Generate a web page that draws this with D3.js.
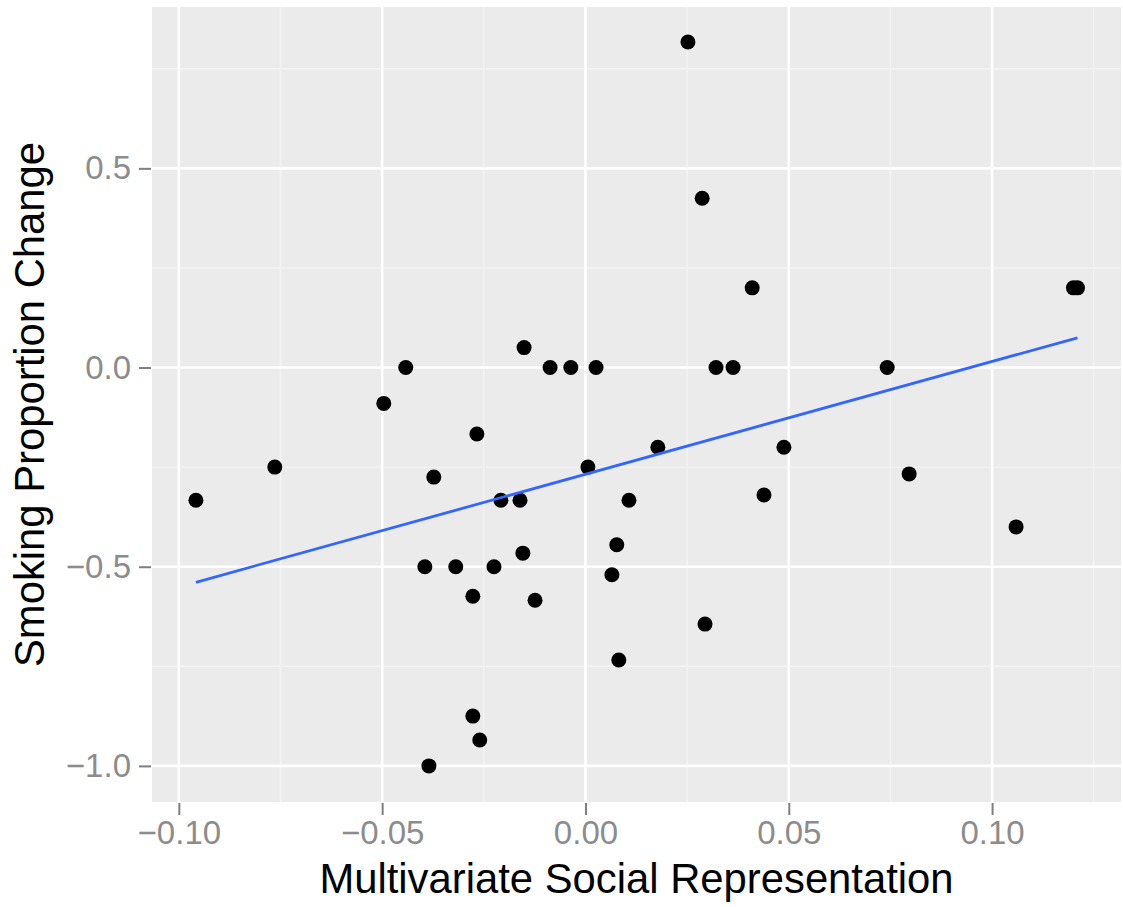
<!DOCTYPE html>
<html>
<head>
<meta charset="utf-8">
<script src="https://cdn.jsdelivr.net/npm/d3@7"></script>
<style>
  html, body { margin: 0; padding: 0; background: #fff; }
  svg { display: block; }
</style>
</head>
<body>
<svg id="chart" width="1123" height="907"></svg>
<script>
// ---- data ----
const xValues = [
  -0.0958, -0.0764, -0.0496, -0.0442, -0.0267, -0.0373, -0.0395, -0.0319, -0.0277, -0.0225,
  -0.0208, -0.0161, -0.0154, -0.0151, -0.0124, -0.0087, -0.0036, 0.0006, 0.0026, 0.0077,
  0.0065, 0.0082, 0.0107, 0.0178, 0.0252, 0.0287, 0.0294, 0.0321, 0.0363, 0.0410,
  0.0439, 0.0488, 0.0742, 0.0796, 0.1059, 0.1200, 0.1210, -0.0277, -0.0260, -0.0385
];
const yValues = [
  -0.333, -0.25, -0.09, 0.0, -0.167, -0.275, -0.5, -0.5, -0.574, -0.5,
  -0.333, -0.333, -0.466, 0.05, -0.584, 0.0, 0.0, -0.25, 0.0, -0.445,
  -0.52, -0.734, -0.333, -0.2, 0.817, 0.425, -0.644, 0.0, 0.0, 0.2,
  -0.32, -0.2, 0.0, -0.267, -0.4, 0.2, 0.2, -0.875, -0.935, -1.0
];
const xTicks = [-0.10, -0.05, 0.00, 0.05, 0.10];
const xMinorTicks = [-0.075, -0.025, 0.025, 0.075, 0.125];
const yTicks = [-1.0, -0.5, 0.0, 0.5];
const yMinorTicks = [-0.75, -0.25, 0.25, 0.75];
const xTitle = "Multivariate Social Representation";
const yTitle = "Smoking Proportion Change";

// ---- layout ----
const svg = d3.select("#chart");
const panel = { left: 152, top: 7, right: 1121, bottom: 802 };
const x = d3.scaleLinear().domain([-0.1066, 0.1317]).range([panel.left, panel.right]);
const y = d3.scaleLinear().domain([-1.0906, 0.905]).range([panel.bottom, panel.top]);
const font = "'Liberation Sans', Arial, Helvetica, sans-serif";
const fmtX = v => (v < 0 ? "\u2212" : "") + Math.abs(v).toFixed(2);
const fmtY = v => (v < 0 ? "\u2212" : "") + Math.abs(v).toFixed(1);

// background
svg.append("rect")
  .attr("x", panel.left).attr("y", panel.top)
  .attr("width", panel.right - panel.left).attr("height", panel.bottom - panel.top)
  .attr("fill", "#EBEBEB");

// minor grid
const grid = svg.append("g");
grid.selectAll(".vminor").data(xMinorTicks).join("line")
  .attr("x1", d => x(d)).attr("x2", d => x(d))
  .attr("y1", panel.top).attr("y2", panel.bottom)
  .attr("stroke", "#F3F3F3").attr("stroke-width", 1.4);
grid.selectAll(".hminor").data(yMinorTicks).join("line")
  .attr("y1", d => y(d)).attr("y2", d => y(d))
  .attr("x1", panel.left).attr("x2", panel.right)
  .attr("stroke", "#F3F3F3").attr("stroke-width", 1.4);
// major grid
grid.selectAll(".vmajor").data(xTicks).join("line")
  .attr("x1", d => x(d)).attr("x2", d => x(d))
  .attr("y1", panel.top).attr("y2", panel.bottom)
  .attr("stroke", "#FFFFFF").attr("stroke-width", 2.6);
grid.selectAll(".hmajor").data(yTicks).join("line")
  .attr("y1", d => y(d)).attr("y2", d => y(d))
  .attr("x1", panel.left).attr("x2", panel.right)
  .attr("stroke", "#FFFFFF").attr("stroke-width", 2.6);

// axes
const xAxis = d3.axisBottom(x).tickValues(xTicks).tickFormat(fmtX).tickSize(12).tickPadding(6);
const gx = svg.append("g").attr("transform", `translate(0,${panel.bottom + 1})`).call(xAxis);
gx.select(".domain").remove();
gx.selectAll(".tick line").attr("stroke", "#7F7F7F").attr("stroke-width", 2);
gx.selectAll(".tick text").attr("fill", "#8C8C8C").attr("font-size", 33).attr("font-family", font);

const yAxis = d3.axisLeft(y).tickValues(yTicks).tickFormat(fmtY).tickSize(12).tickPadding(8);
const gy = svg.append("g").attr("transform", `translate(${panel.left - 1},0)`).call(yAxis);
gy.select(".domain").remove();
gy.selectAll(".tick line").attr("stroke", "#7F7F7F").attr("stroke-width", 2);
gy.selectAll(".tick text").attr("fill", "#8C8C8C").attr("font-size", 33).attr("font-family", font);

// points
const data = xValues.map((v, i) => ({ x: v, y: yValues[i] }));
svg.append("g").selectAll("circle").data(data).join("circle")
  .attr("cx", d => x(d.x)).attr("cy", d => y(d.y)).attr("r", 7.5)
  .attr("fill", "#000");

// regression (OLS)
const mx = d3.mean(xValues), my = d3.mean(yValues);
const sxy = d3.sum(data, d => (d.x - mx) * (d.y - my));
const sxx = d3.sum(data, d => (d.x - mx) ** 2);
const slope = sxy / sxx, intercept = my - slope * mx;
const [xmin, xmax] = d3.extent(xValues);
const line = d3.line().x(d => x(d[0])).y(d => y(d[1]));
svg.append("path")
  .attr("d", line([[xmin, intercept + slope * xmin], [xmax, intercept + slope * xmax]]))
  .attr("stroke", "#3366FF").attr("stroke-width", 2.8).attr("fill", "none");

// titles
svg.append("text")
  .attr("x", (panel.left + panel.right) / 2).attr("y", 893)
  .attr("text-anchor", "middle").attr("font-size", 41.8).attr("font-family", font)
  .attr("fill", "#000").text(xTitle);
svg.append("text")
  .attr("transform", `translate(44,${(panel.top + panel.bottom) / 2}) rotate(-90)`)
  .attr("text-anchor", "middle").attr("font-size", 41.8).attr("font-family", font)
  .attr("fill", "#000").text(yTitle);
</script>
</body>
</html>
